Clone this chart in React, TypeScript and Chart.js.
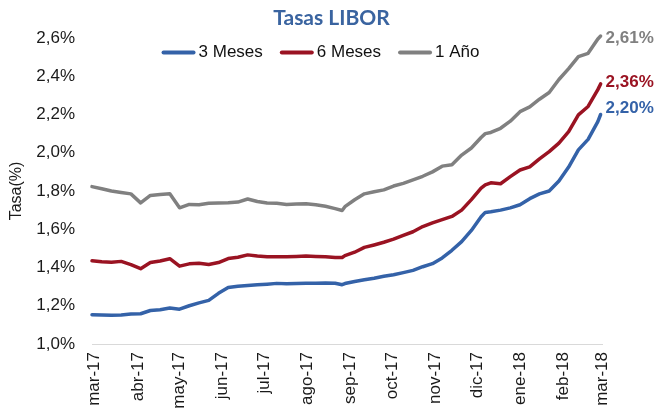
import React, { useEffect, useRef } from 'react';
import { Chart, registerables } from 'chart.js';

Chart.register(...registerables);

// Day offsets from the first month tick (mar-17)
const days = [
  -2, 5, 12, 19, 26, 33, 40, 47, 54, 61, 68, 75, 82, 89, 96, 103, 110, 117, 124, 131,
  138, 145, 152, 159, 166, 173, 178, 180, 187, 194, 201, 208, 215, 222, 229, 236, 243, 250,
  257, 264, 271, 278, 281, 285, 292, 299, 306, 313, 320, 327, 334, 341, 348, 355, 362, 364,
];

const threeMonths = [
  1.153, 1.152, 1.150, 1.152, 1.157, 1.158, 1.175, 1.179, 1.188, 1.182, 1.200, 1.215, 1.228,
  1.265, 1.295, 1.302, 1.306, 1.310, 1.313, 1.317, 1.315, 1.316, 1.318, 1.318, 1.319, 1.318,
  1.310, 1.316, 1.327, 1.336, 1.344, 1.354, 1.362, 1.373, 1.385, 1.404, 1.420, 1.450, 1.490,
  1.535, 1.594, 1.665, 1.688, 1.691, 1.700, 1.712, 1.728, 1.760, 1.785, 1.800, 1.852, 1.925,
  2.015, 2.070, 2.163, 2.200,
];

const sixMonths = [
  1.435, 1.430, 1.428, 1.432, 1.415, 1.394, 1.426, 1.434, 1.446, 1.407, 1.419, 1.422, 1.416,
  1.426, 1.447, 1.454, 1.466, 1.460, 1.456, 1.456, 1.456, 1.458, 1.460, 1.458, 1.456, 1.452,
  1.452, 1.462, 1.480, 1.505, 1.518, 1.532, 1.548, 1.568, 1.587, 1.614, 1.633, 1.650, 1.667,
  1.700, 1.755, 1.815, 1.832, 1.843, 1.838, 1.875, 1.910, 1.926, 1.968, 2.006, 2.050, 2.110,
  2.198, 2.242, 2.330, 2.360,
];

const oneYear = [
  1.823, 1.812, 1.800, 1.792, 1.785, 1.738, 1.777, 1.782, 1.785, 1.712, 1.730, 1.728, 1.736,
  1.737, 1.738, 1.742, 1.758, 1.745, 1.737, 1.736, 1.730, 1.732, 1.733, 1.728, 1.720, 1.708,
  1.698, 1.718, 1.754, 1.785, 1.796, 1.806, 1.826, 1.840, 1.858, 1.877, 1.900, 1.930, 1.937,
  1.988, 2.025, 2.080, 2.100, 2.106, 2.128, 2.165, 2.215, 2.240, 2.280, 2.315, 2.383, 2.440,
  2.503, 2.520, 2.595, 2.610,
];

const seriesNames = ['3 Meses', '6 Meses', '1 Año'];
const seriesColors = ['#3462A8', '#9A1322', '#808080'];

const monthTicks = [0, 31, 61, 92, 122, 153, 184, 214, 245, 275, 306, 337, 365];
const monthLabels = [
  'mar-17', 'abr-17', 'may-17', 'jun-17', 'jul-17', 'ago-17', 'sep-17',
  'oct-17', 'nov-17', 'dic-17', 'ene-18', 'feb-18', 'mar-18',
];
const yTickValues = [1.0, 1.2, 1.4, 1.6, 1.8, 2.0, 2.2, 2.4, 2.6];

const fmt1 = (v: number) => v.toFixed(1).replace('.', ',') + '%';
const fmt2 = (v: number) => v.toFixed(2).replace('.', ',') + '%';

const FONT = "'Liberation Sans', Arial, sans-serif";

// Value labels at the end of each line
const endLabelPlugin = {
  id: 'endLabels',
  afterDatasetsDraw(chart: any) {
    const ctx = chart.ctx;
    chart.data.datasets.forEach((ds: any, i: number) => {
      const meta = chart.getDatasetMeta(i);
      const pt = meta.data[meta.data.length - 1];
      const last = ds.data[ds.data.length - 1];
      if (!pt) return;
      ctx.save();
      ctx.font = `bold 17px ${FONT}`;
      ctx.fillStyle = ds.borderColor;
      ctx.textAlign = 'left';
      ctx.textBaseline = 'middle';
      ctx.fillText(fmt2(last.y), pt.x + 5, pt.y + (ds.endLabelDy || 0));
      ctx.restore();
    });
  },
};

// Legend drawn over the top of the plot area (as in the original)
const overlayLegendPlugin = {
  id: 'overlayLegend',
  afterDraw(chart: any, _args: any, opts: any) {
    const ctx = chart.ctx;
    ctx.save();
    ctx.font = `${opts.fontSize}px ${FONT}`;
    const items = chart.data.datasets.map((ds: any) => ({
      text: ds.label,
      color: ds.borderColor,
      w: opts.lineLength + opts.gap + ctx.measureText(ds.label).width,
    }));
    const total =
      items.reduce((s: number, it: any) => s + it.w, 0) + opts.spacing * (items.length - 1);
    let x = opts.centerX - total / 2;
    const y = opts.centerY;
    items.forEach((it: any) => {
      ctx.strokeStyle = it.color;
      ctx.lineWidth = 4;
      ctx.lineCap = 'round';
      ctx.beginPath();
      ctx.moveTo(x + 2, y);
      ctx.lineTo(x + opts.lineLength - 2, y);
      ctx.stroke();
      ctx.fillStyle = opts.color;
      ctx.textAlign = 'left';
      ctx.textBaseline = 'middle';
      ctx.fillText(it.text, x + opts.lineLength + opts.gap, y);
      x += it.w + opts.spacing;
    });
    ctx.restore();
  },
};

export default function App() {
  const ref = useRef<HTMLCanvasElement | null>(null);

  useEffect(() => {
    if (!ref.current) return;
    const seriesValues = [threeMonths, sixMonths, oneYear];
    const labelOffsets = [-6, -2, 2];
    const chart = new Chart(ref.current, {
      type: 'line',
      data: {
        datasets: seriesValues.map((vals, k) => ({
          label: seriesNames[k],
          data: days.map((d, i) => ({ x: d, y: vals[i] })),
          borderColor: seriesColors[k],
          backgroundColor: seriesColors[k],
          borderWidth: 3.5,
          pointRadius: 0,
          pointHoverRadius: 0,
          tension: 0,
          clip: false,
          borderJoinStyle: 'round',
          borderCapStyle: 'round',
          endLabelDy: labelOffsets[k],
        })) as any,
      },
      options: {
        responsive: false,
        animation: false,
        layout: { padding: 0 },
        plugins: {
          title: {
            display: true,
            text: 'Tasas LIBOR',
            color: '#3A64A0',
            font: { family: 'Lato', size: 21, weight: 'bold', lineHeight: 1 },
            padding: { top: 8, bottom: 9 },
          },
          legend: { display: false },
          overlayLegend: {
            centerX: 320.5,
            centerY: 52.5,
            fontSize: 17,
            lineLength: 34,
            gap: 3,
            spacing: 17,
            color: '#111',
          },
          tooltip: { enabled: false },
        } as any,
        scales: {
          x: {
            type: 'linear',
            min: -2,
            max: 365,
            afterBuildTicks: (s: any) => {
              s.ticks = monthTicks.map((v) => ({ value: v }));
            },
            afterFit: (s: any) => {
              s.height = 71;
            },
            ticks: {
              autoSkip: false,
              minRotation: 90,
              maxRotation: 90,
              padding: 8,
              color: '#1a1a1a',
              font: { family: FONT, size: 17 },
              callback: (_v: any, i: number) => monthLabels[i],
            },
            grid: { display: true, drawOnChartArea: false, drawTicks: false },
            border: { display: true, color: '#D9D9D9', width: 1 },
          },
          y: {
            type: 'linear',
            position: 'left',
            min: 1.0,
            max: 2.6,
            afterBuildTicks: (s: any) => {
              s.ticks = yTickValues.map((v) => ({ value: v }));
            },
            afterFit: (s: any) => {
              s.width = 92;
            },
            ticks: {
              padding: 17,
              color: '#1a1a1a',
              font: { family: FONT, size: 17 },
              callback: (v: any) => fmt1(Number(v)),
            },
            grid: { display: false, drawTicks: false },
            border: { display: false },
            title: {
              display: true,
              text: 'Tasa(%)',
              color: '#1a1a1a',
              font: { family: FONT, size: 16 },
              padding: { top: 7.4, bottom: 0 },
            },
          },
          yRight: {
            type: 'linear',
            position: 'right',
            display: true,
            ticks: { display: false },
            grid: { display: false, drawTicks: false },
            border: { display: false },
            afterFit: (s: any) => {
              s.width = 61;
            },
          },
        },
      } as any,
      plugins: [endLabelPlugin, overlayLegendPlugin],
    });
    return () => chart.destroy();
  }, []);

  return (
    <div style={{ position: 'fixed', left: 0, top: 0, width: 663, height: 415, background: '#fff' }}>
      <canvas ref={ref} width={663} height={415} style={{ width: 663, height: 415, display: 'block' }} />
    </div>
  );
}
